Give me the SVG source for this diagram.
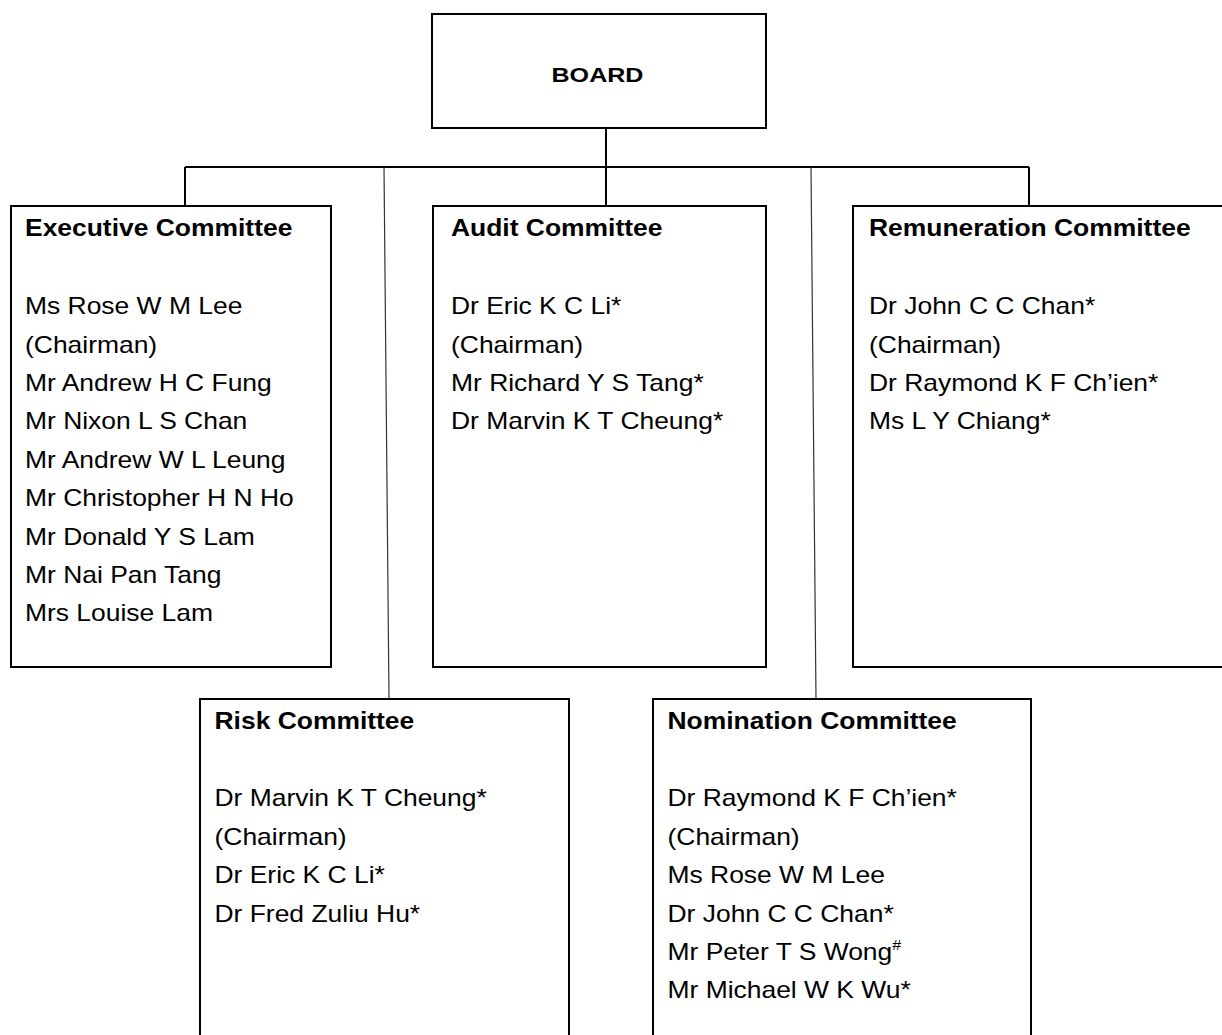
<svg xmlns="http://www.w3.org/2000/svg" width="1222" height="1035" viewBox="0 0 1222 1035">
<style>
.box{fill:#fff;stroke:#000;stroke-width:2}
.conn{fill:none;stroke:#000;stroke-width:2}
.thin{fill:none;stroke:#333;stroke-width:1.2}
text{font-family:"Liberation Sans",Arial,sans-serif;fill:#000}
.t{font-size:23px;font-weight:bold}
.b{font-size:23px}
.sup{font-size:14px}
</style>
<rect width="1222" height="1035" fill="#fff"/>
<g id="connectors">
<line class="conn" x1="606" y1="128" x2="606" y2="167"/>
<line class="conn" x1="185" y1="167" x2="1029" y2="167"/>
<line class="conn" x1="185" y1="167" x2="185" y2="206"/>
<line class="conn" x1="606" y1="167" x2="606" y2="206"/>
<line class="conn" x1="1029" y1="167" x2="1029" y2="206"/>
<line class="thin" x1="384" y1="167" x2="389" y2="699"/>
<line class="thin" x1="811" y1="167" x2="816" y2="699"/>
</g>
<g id="board">
<rect class="box" x="432" y="14" width="334" height="114"/>
<text x="597.5" y="82" font-size="20" font-weight="bold" text-anchor="middle" textLength="92" lengthAdjust="spacingAndGlyphs">BOARD</text>
</g>
<g id="executive">
<rect class="box" x="11" y="206" width="320" height="461"/>
<g transform="translate(25,0) scale(1.15,1)">
<text class="t" x="0" y="236">Executive Committee</text>
<text class="b" x="0" y="314.3">Ms Rose W M Lee</text>
<text class="b" x="0" y="352.7">(Chairman)</text>
<text class="b" x="0" y="391.1">Mr Andrew H C Fung</text>
<text class="b" x="0" y="429.5">Mr Nixon L S Chan</text>
<text class="b" x="0" y="467.9">Mr Andrew W L Leung</text>
<text class="b" x="0" y="506.3">Mr Christopher H N Ho</text>
<text class="b" x="0" y="544.7">Mr Donald Y S Lam</text>
<text class="b" x="0" y="583.1">Mr Nai Pan Tang</text>
<text class="b" x="0" y="621.5">Mrs Louise Lam</text>
</g>
</g>
<g id="audit">
<rect class="box" x="433" y="206" width="333" height="461"/>
<g transform="translate(451,0) scale(1.15,1)">
<text class="t" x="0" y="236">Audit Committee</text>
<text class="b" x="0" y="314.3">Dr Eric K C Li*</text>
<text class="b" x="0" y="352.7">(Chairman)</text>
<text class="b" x="0" y="391.1">Mr Richard Y S Tang*</text>
<text class="b" x="0" y="429.5">Dr Marvin K T Cheung*</text>
</g>
</g>
<g id="remuneration">
<rect class="box" x="853" y="206" width="380" height="461"/>
<g transform="translate(869,0) scale(1.15,1)">
<text class="t" x="0" y="236">Remuneration Committee</text>
<text class="b" x="0" y="314.3">Dr John C C Chan*</text>
<text class="b" x="0" y="352.7">(Chairman)</text>
<text class="b" x="0" y="391.1">Dr Raymond K F Ch’ien*</text>
<text class="b" x="0" y="429.5">Ms L Y Chiang*</text>
</g>
</g>
<g id="risk">
<rect class="box" x="200" y="699" width="369" height="350"/>
<g transform="translate(214.5,0) scale(1.15,1)">
<text class="t" x="0" y="729.3">Risk Committee</text>
<text class="b" x="0" y="806.5">Dr Marvin K T Cheung*</text>
<text class="b" x="0" y="844.9">(Chairman)</text>
<text class="b" x="0" y="883.3">Dr Eric K C Li*</text>
<text class="b" x="0" y="921.7">Dr Fred Zuliu Hu*</text>
</g>
</g>
<g id="nomination">
<rect class="box" x="653" y="699" width="378" height="350"/>
<g transform="translate(667.5,0) scale(1.15,1)">
<text class="t" x="0" y="729.3">Nomination Committee</text>
<text class="b" x="0" y="806.5">Dr Raymond K F Ch’ien*</text>
<text class="b" x="0" y="844.9">(Chairman)</text>
<text class="b" x="0" y="883.3">Ms Rose W M Lee</text>
<text class="b" x="0" y="921.7">Dr John C C Chan*</text>
<text class="b" x="0" y="960.1">Mr Peter T S Wong<tspan class="sup" dy="-10">#</tspan></text>
<text class="b" x="0" y="998.5">Mr Michael W K Wu*</text>
</g>
</g>
</svg>
